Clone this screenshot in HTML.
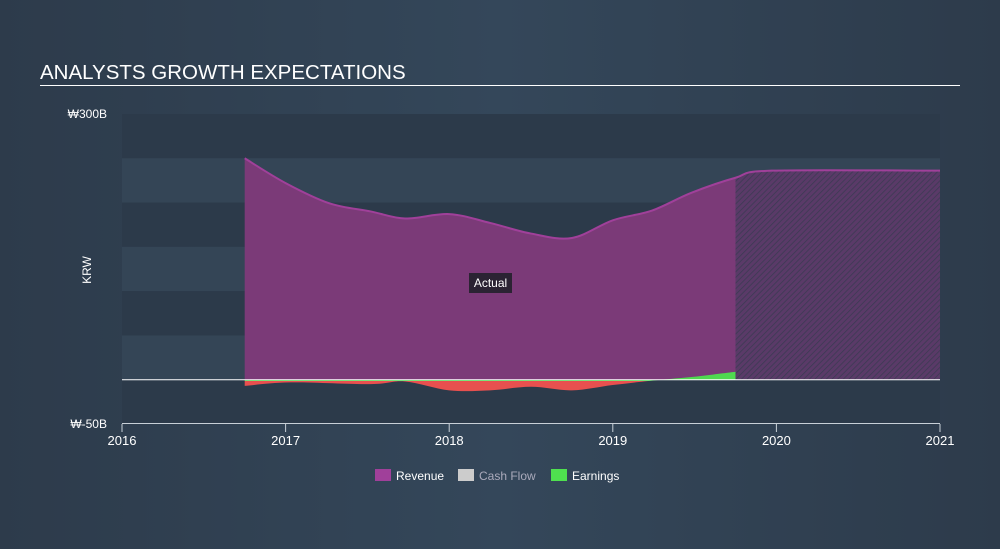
<!DOCTYPE html>
<html><head><meta charset="utf-8"><style>
body{margin:0;width:1000px;height:544px;background:linear-gradient(90deg,#2d3b4b,#34475a 50%,#2d3b4b);font-family:"Liberation Sans",sans-serif;overflow:hidden}
svg text{font-family:"Liberation Sans",sans-serif}
</style></head><body>
<svg id="c" width="1000" height="544">
<defs>
<pattern id="hatch" width="4" height="4" patternUnits="userSpaceOnUse" patternTransform="rotate(45)">
<rect width="4" height="4" fill="#5a3a68"/><line x1="0" y1="0" x2="0" y2="4" stroke="#3a3a52" stroke-width="1.5"/></pattern>
<clipPath id="above"><rect x="0" y="0" width="1000" height="381"/></clipPath>
<clipPath id="below"><rect x="0" y="381" width="1000" height="200"/></clipPath>
</defs>
<text x="40" y="79" fill="#fff" font-size="20.5">ANALYSTS GROWTH EXPECTATIONS</text>
<line x1="40" y1="85.5" x2="960" y2="85.5" stroke="#fff" stroke-width="1"/>
<g id="g"></g>
</svg>
<script>
const yTicks=[300,-50];
const yTickLabels=["₩300B","₩-50B"];
const xTicks=[2016,2017,2018,2019,2020,2021];
const revYears=[2016.75,2017.0,2017.27,2017.52,2017.73,2018.0,2018.25,2018.5,2018.75,2019.0,2019.24,2019.48,2019.75,2019.97,2021.0];
const revVals=[250,222,199,190,182,187,177,165,160,180,191,211,228,236,236];
const earnYears=[2016.75,2017.03,2017.52,2017.73,2018.0,2018.25,2018.5,2018.75,2019.0,2019.24,2019.48,2019.75];
const earnVals=[-7,-3,-5,-2,-12,-12,-8,-12,-6,-1,3,9];
const forecastStart=2019.75;
const X0=122,X1=940,Y0=424,Y1=114;
const x=v=>X0+(v-2016)/(2021-2016)*(X1-X0);
const y=v=>Y0-(v+50)/350*(Y0-Y1);
const NS="http://www.w3.org/2000/svg";
const g=document.getElementById('g');
function mk(t,a){const e=document.createElementNS(NS,t);for(const k in a)e.setAttribute(k,a[k]);g.appendChild(e);return e;}
for(let i=0;i<7;i++){const e=mk('rect',{x:X0,y:y(300-50*i),width:X1-X0,height:y(0)-y(50),fill:i%2?'#344556':'#2c3a4a'});

}
function smooth(px){let d=`M${px[0][0]},${px[0][1]}`;for(let i=1;i<px.length;i++){const p0=px[i-2]||px[i-1],p1=px[i-1],p2=px[i],p3=px[i+1]||p2;
const c1=[p1[0]+(p2[0]-p0[0])/6,p1[1]+(p2[1]-p0[1])/6],c2=[p2[0]-(p3[0]-p1[0])/6,p2[1]-(p3[1]-p1[1])/6];d+=`C${c1[0]},${c1[1]} ${c2[0]},${c2[1]} ${p2[0]},${p2[1]}`;}return d;}
const rp=revYears.map((t,i)=>[x(t),y(revVals[i])]);
const rpath=smooth(rp)+`L${x(revYears[revYears.length-1])},${y(0)}L${x(revYears[0])},${y(0)}Z`;
const cp=document.createElementNS(NS,'clipPath');cp.setAttribute('id','fcclip');const cpp=document.createElementNS(NS,'path');cpp.setAttribute('d',rpath);cp.appendChild(cpp);document.querySelector('defs').appendChild(cp);
const rev=mk('path',{d:rpath,fill:'#7b3a78'});


const fc=mk('rect',{x:x(forecastStart),y:0,width:X1-x(forecastStart),height:y(0),fill:'url(#hatch)','clip-path':'url(#fcclip)'});


const rl=mk('path',{d:smooth(rp),fill:'none',stroke:'#a0409a','stroke-width':2});


const ep=earnYears.map((t,i)=>[x(t),y(earnVals[i])]);
const epath=smooth(ep)+`L${x(earnYears[earnYears.length-1])},${y(0)}L${x(earnYears[0])},${y(0)}Z`;
const en=mk('path',{d:epath,fill:'#e8504f','clip-path':'url(#below)'});


const epos=mk('path',{d:epath,fill:'#4fd84f','clip-path':'url(#above)'});


const zl=mk('line',{x1:X0,x2:X1,y1:y(0),y2:y(0),stroke:'#fff','stroke-width':1});


const ax=mk('line',{x1:X0,x2:X1,y1:Y0-0.5,y2:Y0-0.5,stroke:'#c8d0d8','stroke-width':1});


xTicks.forEach(t=>{const l=mk('line',{x1:x(t),x2:x(t),y1:Y0,y2:Y0+8,stroke:'#c8d0d8'});


const tx=mk('text',{x:x(t),y:Y0+21,fill:'#fff','font-size':13,'text-anchor':'middle'});tx.textContent=t;

});
yTicks.forEach((v,i)=>{const tx=mk('text',{x:X0-15,y:y(v)+4,fill:'#fff','font-size':12,'text-anchor':'end'});tx.textContent=yTickLabels[i];

});
const yt=mk('text',{x:91,y:270,fill:'#fff','font-size':12,'text-anchor':'middle',transform:'rotate(-90 91 270)'});yt.textContent='KRW';


const ab=mk('rect',{x:469,y:273,width:43,height:20,fill:'#2b2333'});


const at=mk('text',{x:490.5,y:287,fill:'#fff','font-size':12,'text-anchor':'middle'});at.textContent='Actual';


[['Revenue','#a0409a',375,'#fff'],['Cash Flow','#cccccc',458,'#aab'],['Earnings','#4fe04f',551,'#fff']].forEach(([n,c,lx,tc])=>{
const r=mk('rect',{x:lx,y:469,width:16,height:12,fill:c});


const t=mk('text',{x:lx+21,y:480,fill:tc,'font-size':12});t.textContent=n;

});
</script>
</body></html>
